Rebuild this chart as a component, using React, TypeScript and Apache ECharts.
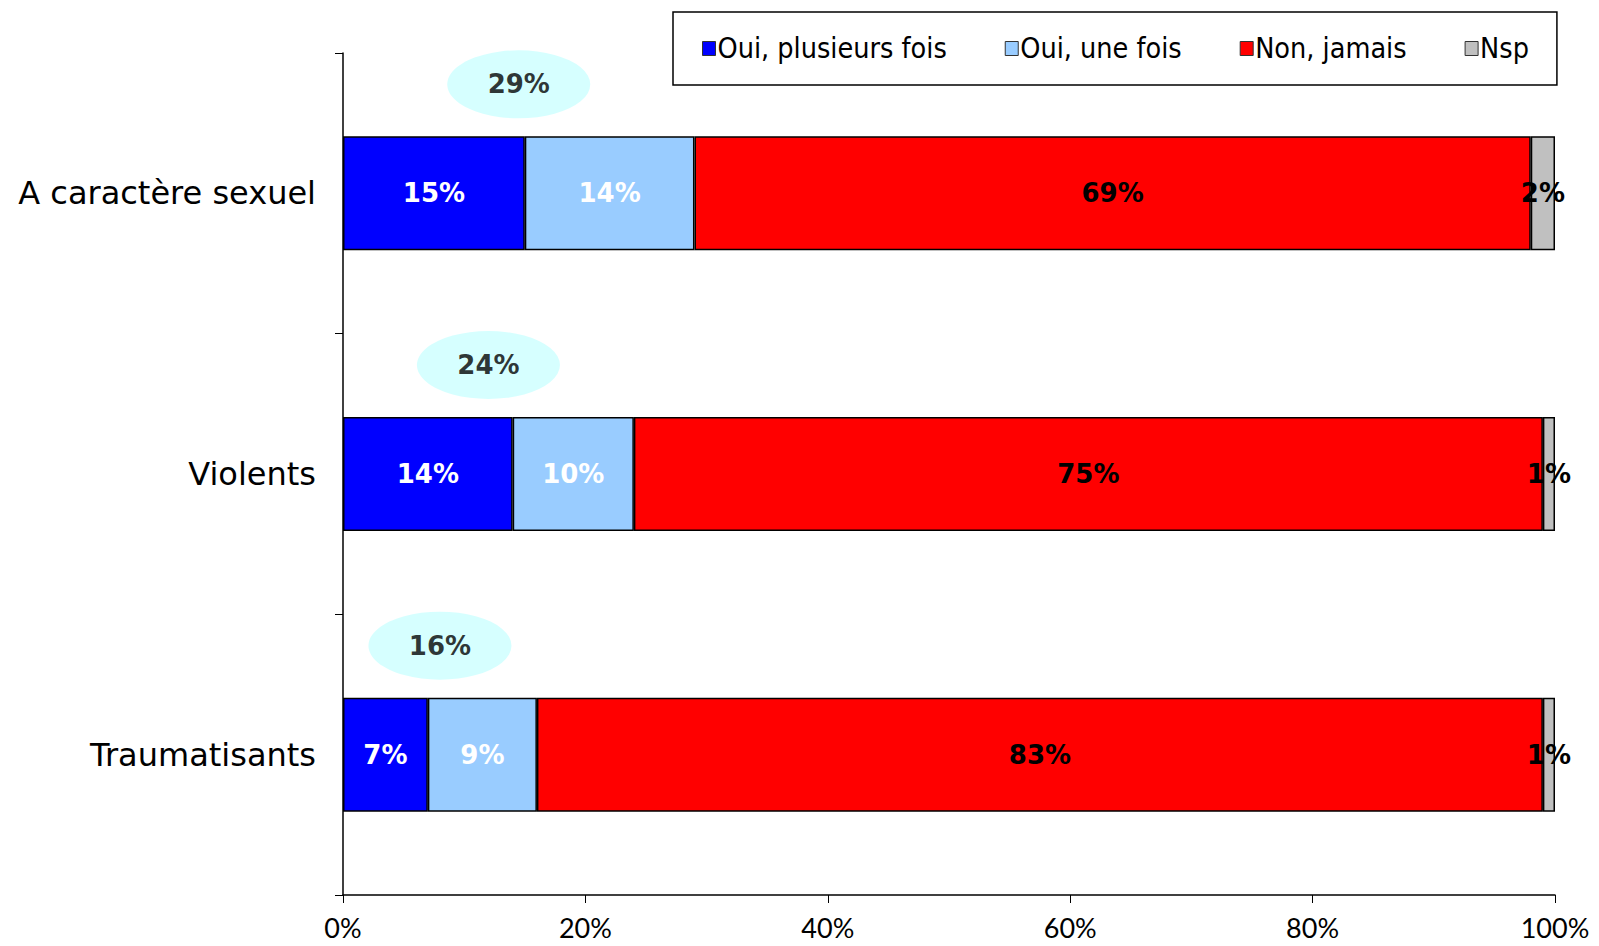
import React, { useEffect, useRef } from "react";
import * as echarts from "echarts";

const categories = ["A caractère sexuel", "Violents", "Traumatisants"];
const seriesNames = ["Oui, plusieurs fois", "Oui, une fois", "Non, jamais", "Nsp"];
const ouiPlusieurs = [15, 14, 7];
const ouiUne = [14, 10, 9];
const nonJamais = [69, 75, 83];
const nsp = [2, 1, 1];
const xTicks = [0, 20, 40, 60, 80, 100];

const colors = ["#0000FF", "#99CCFF", "#FF0000", "#C0C0C0"];
const labelColors = ["#FFFFFF", "#FFFFFF", "#000000", "#000000"];

export default function App() {
  const ref = useRef<HTMLDivElement>(null);
  useEffect(() => {
    if (!ref.current) return;
    const chart = echarts.init(ref.current, undefined, { renderer: "svg" });
    const values = [ouiPlusieurs, ouiUne, nonJamais, nsp];
    const totals = ouiPlusieurs.map((v, i) => v + ouiUne[i]);
    const barSeries = values.map((vals, k) => ({
      name: seriesNames[k],
      type: "bar",
      stack: "total",
      barWidth: 114,
      data: vals,
      itemStyle: { color: colors[k], borderColor: "#000", borderWidth: 1.5 },
      label: {
        show: true,
        position: "inside",
        formatter: "{c}%",
        color: labelColors[k],
        fontFamily: "DejaVu Sans",
        fontWeight: "bold",
        fontSize: 26,
      },
    }));
    chart.setOption({
      animation: false,
      backgroundColor: "#fff",
      grid: { left: 343, right: 44, top: 53, bottom: 51 },
      legend: {
        data: seriesNames,
        left: 673,
        top: 12,
        padding: [22, 28, 22, 29],
        itemGap: 58,
        itemWidth: 13,
        itemHeight: 14,
        itemStyle: { borderColor: "#333", borderWidth: 1 },
        icon: "rect",
        borderColor: "#000",
        borderWidth: 1.5,
        backgroundColor: "#fff",
        textStyle: { fontFamily: "DejaVu Sans Condensed", fontSize: 28.5, color: "#000", padding: [0, 0, 0, -3] },
      },
      xAxis: {
        type: "value",
        min: 0,
        max: 100,
        interval: 20,
        axisLine: { show: true, lineStyle: { color: "#000", width: 1.5 } },
        axisTick: { show: true, length: 8, lineStyle: { color: "#000" } },
        splitLine: { show: false },
        axisLabel: {
          formatter: (v: number) => (xTicks.includes(v) ? v + "%" : ""),
          fontFamily: "Lato",
          fontSize: 27,
          color: "#000",
          margin: 19,
        },
      },
      yAxis: {
        type: "category",
        data: categories,
        inverse: true,
        axisLine: { show: true, lineStyle: { color: "#000", width: 1.5 } },
        axisTick: { show: true, length: 8, lineStyle: { color: "#000" } },
        axisLabel: {
          fontFamily: "DejaVu Sans",
          fontSize: 32,
          color: "#000",
          margin: 27,
        },
      },
      series: [
        ...barSeries,
        {
          type: "scatter",
          name: "total",
          data: totals.map((t, i) => [t / 2, i, t]),
          symbol: "circle",
          symbolSize: [143, 68],
          symbolOffset: [0, -109],
          itemStyle: { color: "#CCFFFF" },
          label: {
            show: true,
            position: "inside",
            formatter: (p: any) => p.value[2] + "%",
            color: "#000",
            fontFamily: "DejaVu Sans",
            fontWeight: "bold",
            fontSize: 26,
          },
          z: 3,
        },
      ],
    });
    return () => chart.dispose();
  }, []);
  return (
    <div
      ref={ref}
      style={{ position: "fixed", left: 0, top: 0, width: 1599, height: 946 }}
    />
  );
}
